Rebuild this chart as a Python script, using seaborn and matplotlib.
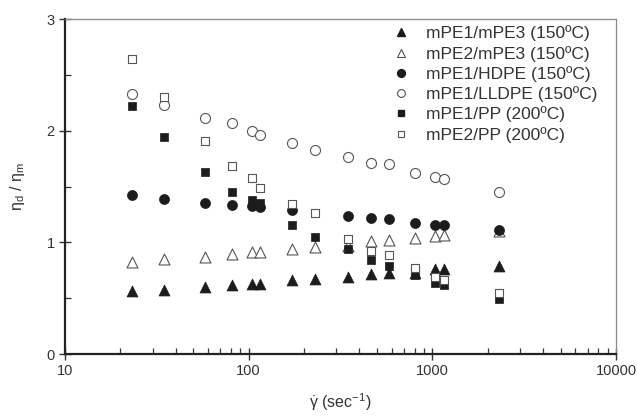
import numpy as np
import pandas as pd
import matplotlib
matplotlib.use("Agg")
import matplotlib.pyplot as plt
from matplotlib.lines import Line2D
import seaborn as sns

sns.set_theme(style="white")
plt.rcParams["font.family"] = ["Liberation Sans", "DejaVu Sans"]
plt.rcParams["mathtext.fontset"] = "custom"
plt.rcParams["mathtext.rm"] = "Liberation Sans"
plt.rcParams["mathtext.it"] = "Liberation Sans"

# Apparent shear rates (1/s)
shear_rate = [23.1, 34.7, 57.8, 80.9, 104, 115.6, 173, 231, 347, 462, 578, 809, 1040, 1156, 2312]

labels = [
    "mPE1/mPE3 (150ºC)",
    "mPE2/mPE3 (150ºC)",
    "mPE1/HDPE (150ºC)",
    "mPE1/LLDPE (150ºC)",
    "mPE1/PP (200ºC)",
    "mPE2/PP (200ºC)",
]

# Viscosity ratio eta_d / eta_m for each blend
mpe1_mpe3 = [0.564, 0.570, 0.603, 0.618, 0.629, 0.624, 0.662, 0.671, 0.692, 0.713, 0.722, 0.730, 0.761, 0.761, 0.791]
mpe2_mpe3 = [0.821, 0.848, 0.871, 0.892, 0.910, 0.915, 0.943, 0.961, 0.970, 1.012, 1.021, 1.038, 1.056, 1.062, 1.100]
mpe1_hdpe = [1.423, 1.390, 1.355, 1.334, 1.328, 1.315, 1.289, np.nan, 1.238, 1.220, 1.211, 1.176, 1.155, 1.155, 1.110]
mpe1_lldpe = [2.328, 2.235, 2.116, 2.074, 1.996, 1.961, 1.889, 1.826, 1.764, 1.710, 1.701, 1.623, 1.582, 1.564, 1.453]
mpe1_pp = [2.226, 1.943, 1.632, 1.453, 1.379, 1.355, 1.152, 1.045, 0.940, 0.842, 0.791, 0.707, 0.638, 0.618, 0.490]
mpe2_pp = [2.647, 2.298, 1.904, 1.686, 1.578, 1.483, 1.340, 1.265, 1.027, 0.922, 0.884, 0.773, 0.692, 0.662, 0.543]

series = [mpe1_mpe3, mpe2_mpe3, mpe1_hdpe, mpe1_lldpe, mpe1_pp, mpe2_pp]
markers = ["^", "^", "o", "o", "s", "s"]
filled = [True, False, True, False, True, False]
sizes = [62, 62, 52, 52, 40, 40]

INK = "#1c1c1c"
OPEN_EDGE = "#555555"
TEXT = "#333333"

fig = plt.figure(figsize=(6.37, 4.16), dpi=100)
ax = fig.add_axes([0.102, 0.149, 0.865, 0.805])

handles = []
for lab, vals, mk, fl, sz in zip(labels, series, markers, filled, sizes):
    df = pd.DataFrame({"rate": shear_rate, "ratio": vals}).dropna()
    if fl:
        sns.scatterplot(data=df, x="rate", y="ratio", marker=mk, s=sz,
                        color=INK, edgecolor=INK, linewidth=0.5, ax=ax, zorder=3)
        h = Line2D([], [], marker=mk, linestyle="none", markerfacecolor=INK,
                   markeredgecolor=INK, markersize=np.sqrt(sz) * 0.78, label=lab)
    else:
        sns.scatterplot(data=df, x="rate", y="ratio", marker=mk, s=sz,
                        facecolor="white", edgecolor=OPEN_EDGE, linewidth=0.8,
                        ax=ax, zorder=3)
        h = Line2D([], [], marker=mk, linestyle="none", markerfacecolor="white",
                   markeredgecolor=OPEN_EDGE, markeredgewidth=0.8,
                   markersize=np.sqrt(sz) * 0.78, label=lab)
    handles.append(h)

ax.set_xscale("log")
ax.set_xlim(10, 10000)
ax.set_ylim(0, 3)
ax.set_yticks([0, 1, 2, 3])
ax.set_yticks([0.5, 1.5, 2.5], minor=True)
ax.set_xticks([10, 100, 1000, 10000])
ax.set_xticklabels(["10", "100", "1000", "10000"])

for side in ["left", "bottom"]:
    ax.spines[side].set_color("#222222")
    ax.spines[side].set_linewidth(1.6)
for side in ["top", "right"]:
    ax.spines[side].set_color("#8a8a8a")
    ax.spines[side].set_linewidth(0.9)

ax.tick_params(axis="both", which="major", direction="inout", length=9, width=1.0,
               color="#333333", labelsize=10.5, labelcolor=TEXT, pad=3)
ax.tick_params(axis="both", which="minor", direction="in", length=4, width=0.9,
               color="#333333")
ax.tick_params(axis="x", which="both", bottom=True, top=False)
ax.tick_params(axis="y", which="both", left=True, right=False)

ax.set_xlabel(r"$\dot{\gamma}$ (sec$^{-1}$)", fontsize=11.5, color=TEXT, labelpad=9)
ax.set_ylabel("η$_\\mathrm{d}$ / η$_\\mathrm{m}$", fontsize=11.5, color=TEXT, labelpad=14)

leg = ax.legend(handles=handles, loc="upper right", bbox_to_anchor=(0.985, 1.012),
                frameon=False, fontsize=12.5, handletextpad=0.85, labelspacing=0.25,
                handlelength=1.2, borderaxespad=0.2)
for t in leg.get_texts():
    t.set_color(TEXT)

fig.savefig("out.png", dpi=100)
